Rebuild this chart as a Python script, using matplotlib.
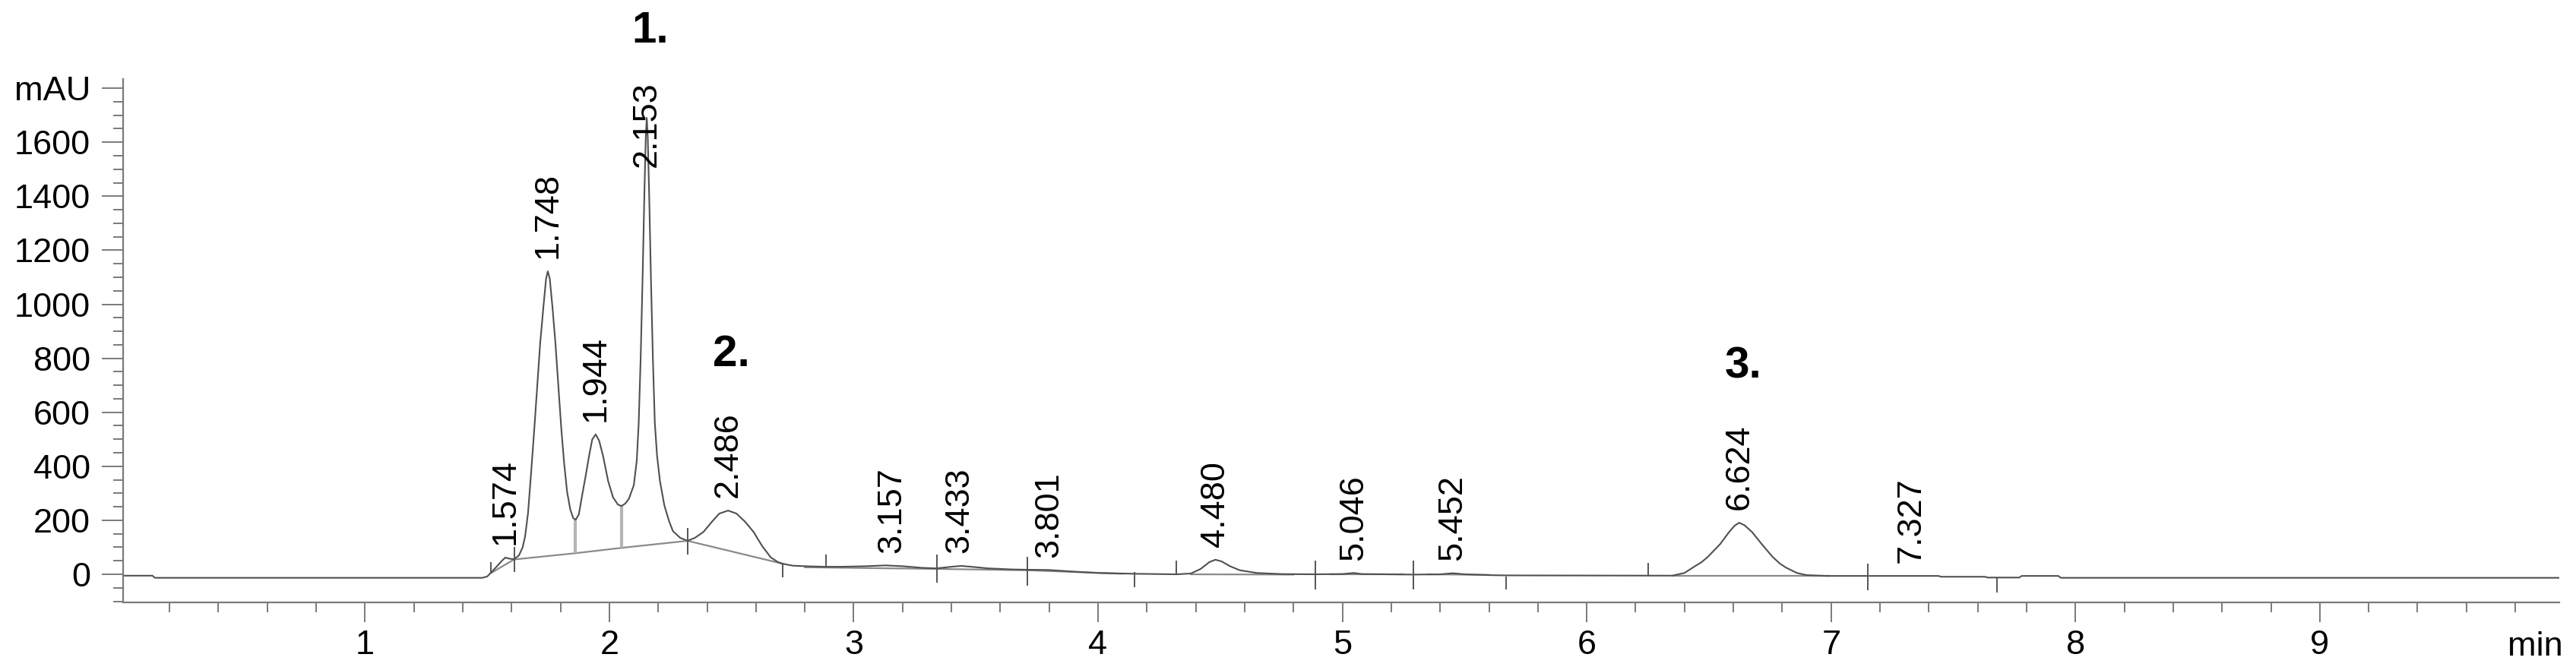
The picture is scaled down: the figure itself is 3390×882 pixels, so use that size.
import matplotlib
matplotlib.use('Agg')
from matplotlib import pyplot as plt
from matplotlib.ticker import MultipleLocator

plt.rcParams['font.family'] = ['Liberation Sans', 'DejaVu Sans']

# chromatogram trace (time in min, signal in mAU)
trace_t = [
    0.01, 0.13, 0.14, 1.48,
    1.50, 1.53, 1.56, 1.574, 1.59, 1.61, 1.63, 1.645,
    1.655, 1.667, 1.68, 1.693, 1.705, 1.717, 1.73, 1.741, 1.748,
    1.756, 1.767, 1.779, 1.791, 1.803, 1.815, 1.827, 1.84, 1.852, 1.862,
    1.875, 1.89, 1.905, 1.917, 1.93, 1.944, 1.958, 1.974, 1.995, 2.015, 2.035, 2.05,
    2.065, 2.08, 2.10, 2.112, 2.12, 2.128, 2.136, 2.143, 2.149, 2.153,
    2.157, 2.163, 2.17, 2.178, 2.186, 2.195, 2.207, 2.225, 2.245, 2.26, 2.29, 2.32,
    2.35, 2.385, 2.42, 2.45, 2.486, 2.52, 2.555, 2.59, 2.625, 2.66, 2.69, 2.71, 2.75, 2.80,
    2.88, 2.95, 3.05, 3.13, 3.20, 3.28, 3.34, 3.40, 3.44, 3.48, 3.55, 3.65, 3.71, 3.80, 3.90, 4.00, 4.15, 4.32,
    4.38, 4.42, 4.455, 4.48, 4.505, 4.54, 4.58, 4.65, 4.75, 4.89,
    5.00, 5.046, 5.08, 5.29, 5.40, 5.452, 5.50, 5.60, 5.67, 6.25,
    6.35, 6.40, 6.434, 6.47, 6.496, 6.546, 6.583, 6.605, 6.624,
    6.645, 6.676, 6.716, 6.76, 6.79, 6.815, 6.86, 6.90, 6.98,
    7.15, 7.44, 7.45, 7.63, 7.64, 7.77, 7.78, 7.93, 7.94, 9.98]
trace_v = [
    -5, -5, -13, -13,
    -8, 20, 50, 62, 58, 56, 70, 100,
    140, 226, 380, 542, 700, 858, 990, 1095, 1122,
    1095, 990, 858, 700, 542, 410, 305, 240, 208, 202,
    222, 300, 375, 439, 500, 518, 495, 439, 345, 285, 258, 253,
    262, 280, 330, 420, 560, 800, 1100, 1400, 1620, 1690,
    1620, 1400, 1100, 800, 560, 440, 345, 255, 195, 160, 135, 124,
    135, 157, 195, 225, 236, 225, 195, 157, 105, 63, 45, 39, 32, 30,
    28, 28, 30, 33, 30, 24, 22, 28, 31, 28, 22, 18, 17, 16, 10, 5, 2, 0,
    3, 20, 45, 54, 48, 30, 15, 5, 1, 0,
    1, 5, 1, -1, 0, 4, 0, -3, -4, -5,
    -5, 5, 25, 45, 65, 112, 157, 180, 191,
    182, 157, 112, 65, 40, 25, 5, -3, -6,
    -6, -6, -9, -9, -12, -12, -6, -6, -13, -13]

# peaks: retention time and apex height
peak_rt = [1.574, 1.748, 1.944, 2.153, 2.486, 3.157, 3.433, 3.801,
           4.480, 5.046, 5.452, 6.624, 7.327]
peak_h = [62, 1122, 518, 1690, 236, 33, 31, 16, 54, 5, 4, 191, -6]

# integration baselines
base_t = [[1.516, 1.61], [1.61, 1.86, 2.05, 2.32], [2.32, 2.71],
          [2.80, 3.34], [3.34, 3.71], [3.71, 4.10], [4.38, 4.80],
          [4.95, 5.25], [5.35, 5.60], [6.35, 6.99]]
base_v = [[5, 55], [55, 78, 98, 124], [124, 39],
          [26, 20], [20, 15], [15, 2], [0, -1],
          [0, 0], [0, -2], [-5, -5]]

# drop lines at the valleys
drop_t = [1.86, 2.05]
drop_top = [202, 253]
drop_bot = [78, 98]

# peak start / end marks
event_t = [1.516, 1.61, 2.32, 2.71, 2.885, 3.34, 3.71, 4.15, 4.32,
           4.89, 5.29, 5.67, 6.25, 7.15, 7.68]
event_hi = [45, 101, 171, 39, 73, 73, 65, 8, 51, 51, 51, -8, 42, 39, -14]
event_lo = [3, 8, 73, -11, 31, -31, -42, -48, -3, -56, -56, -56, -9, -59, -67]

# compound numbers
comp_names = ['1.', '2.', '3.']
comp_t = [2.167, 2.50, 6.64]
comp_v = [2011, 812, 770]

y_ticks = [0, 200, 400, 600, 800, 1000, 1200, 1400, 1600, 1800]
y_labels = ['0', '200', '400', '600', '800', '1000', '1200', '1400', '1600', 'mAU']
x_ticks = [1, 2, 3, 4, 5, 6, 7, 8, 9]

axis_grey = '#7a7a7a'

fig = plt.figure(figsize=(33.9, 8.82), dpi=100)
ax = fig.add_axes([0.0478, 0.1009, 0.9457, 0.7812])

# baselines and drop lines under the trace
for bt, bv in zip(base_t, base_v):
    ax.plot(bt, bv, color='#8a8a8a', lw=1.6)
ax.vlines(drop_t, drop_bot, drop_top, color='#b5b5b5', lw=3)

ax.plot(trace_t, trace_v, color='#505050', lw=1.5)
ax.vlines(event_t, event_lo, event_hi, color='#555555', lw=1.4)

# retention time labels
for rt, h in zip(peak_rt, peak_h):
    ax.annotate('%.3f' % rt, xy=(rt, min(h, 1460)), xytext=(0, 12),
                textcoords='offset points', rotation=90,
                ha='center', va='bottom', fontsize=32.5)

for name, t, v in zip(comp_names, comp_t, comp_v):
    ax.text(t, v, name, fontsize=42, fontweight='bold',
            ha='center', va='center', clip_on=False)

ax.set_xlim(0.01, 9.98)
ax.set_ylim(-104, 1834)

ax.set_xticks(x_ticks)
ax.xaxis.set_minor_locator(MultipleLocator(0.2))
ax.set_yticks(y_ticks)
ax.set_yticklabels(y_labels)
ax.yaxis.set_minor_locator(MultipleLocator(50))

for side in ['top', 'right']:
    ax.spines[side].set_visible(False)
for side in ['left', 'bottom']:
    ax.spines[side].set_color(axis_grey)
    ax.spines[side].set_linewidth(1.6)

ax.tick_params(axis='x', which='major', length=18.7, width=1.4,
               color=axis_grey, labelsize=32.5, pad=7)
ax.tick_params(axis='y', which='major', length=20, width=1.4,
               color=axis_grey, labelsize=32.5, pad=11)
ax.tick_params(which='minor', length=9.4, width=1.4, color=axis_grey)

fig.text(3373 / 3390, 1 - 863 / 882, 'min', ha='right', va='baseline',
         fontsize=32.5)

fig.savefig('out.png', dpi=100)
